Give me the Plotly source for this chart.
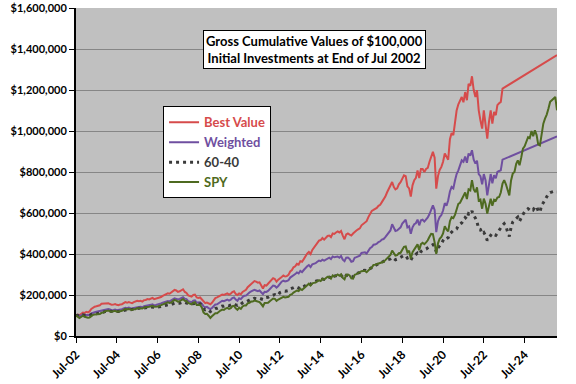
import pandas as pd
import plotly.graph_objects as go

# Monthly values in $ thousands, rows run Jul..Jun starting Jul 2002
best_value_k = [
    100, 104, 101, 108, 114, 112, 118, 115, 120, 132, 138, 143,
    145, 148, 150, 157, 158, 160, 162, 160, 156, 152, 153, 156,
    152, 150, 154, 155, 160, 165, 162, 166, 163, 160, 165, 168,
    172, 170, 172, 168, 175, 176, 180, 178, 182, 186, 180, 182,
    185, 188, 190, 196, 200, 204, 208, 206, 212, 220, 225, 222,
    215, 218, 222, 228, 215, 210, 198, 195, 192, 200, 202, 188,
    186, 188, 178, 165, 160, 163, 158, 155, 162, 175, 185, 188,
    192, 198, 202, 200, 205, 208, 202, 206, 214, 218, 205, 200,
    208, 204, 215, 222, 225, 238, 245, 255, 258, 268, 265, 260,
    262, 245, 232, 248, 246, 255, 265, 275, 282, 278, 265, 275,
    280, 288, 295, 290, 292, 298, 315, 322, 335, 340, 352, 348,
    365, 362, 375, 392, 402, 410, 400, 420, 430, 445, 455, 465,
    468, 478, 470, 480, 488, 490, 482, 500, 498, 505, 510, 505,
    512, 490, 472, 495, 500, 495, 490, 500, 510, 515, 520, 525,
    540, 548, 555, 560, 580, 595, 610, 615, 620, 625, 635, 640,
    653, 665, 680, 700, 720, 735, 751, 727, 715, 720, 740, 750,
    770, 784, 780, 730, 720, 680, 735, 760, 770, 808, 770, 815,
    815, 800, 815, 820, 850, 880, 898, 870, 719, 780, 810, 825,
    850, 890, 870, 860, 960, 990, 980, 1040, 1100, 1130, 1150, 1166,
    1140, 1190, 1150, 1230, 1220, 1267, 1200, 1166, 1199, 1101, 1052, 1012,
    1101, 1036, 963, 1044, 1101, 1036, 1093, 1077, 1126, 1135, 1142, 1207,
]
best_value_last_k = 1370

weighted_k = [
    100, 101, 97, 100, 104, 102, 103, 101, 103, 110, 114, 116,
    118, 120, 121, 125, 126, 128, 130, 131, 129, 126, 127, 129,
    126, 127, 129, 131, 135, 138, 136, 139, 136, 134, 137, 139,
    143, 142, 143, 140, 145, 146, 150, 150, 152, 155, 150, 151,
    153, 156, 159, 163, 166, 168, 171, 169, 172, 179, 184, 182,
    178, 181, 186, 189, 182, 180, 170, 166, 165, 172, 174, 163,
    163, 165, 158, 145, 140, 142, 136, 131, 137, 148, 154, 155,
    162, 167, 172, 170, 176, 178, 173, 177, 185, 188, 178, 172,
    184, 180, 190, 196, 197, 207, 212, 218, 220, 225, 222, 219,
    222, 212, 204, 216, 215, 220, 230, 238, 246, 244, 236, 244,
    255, 265, 270, 266, 268, 272, 285, 290, 298, 302, 310, 305,
    318, 312, 322, 333, 340, 346, 336, 350, 352, 355, 362, 368,
    365, 372, 368, 372, 380, 382, 375, 388, 384, 386, 388, 382,
    390, 372, 365, 382, 383, 376, 362, 365, 382, 385, 390, 392,
    405, 408, 408, 402, 418, 428, 434, 445, 446, 450, 458, 462,
    470, 473, 482, 492, 507, 515, 545, 525, 512, 515, 525, 530,
    548, 560, 567, 530, 535, 499, 530, 545, 550, 568, 540, 564,
    567, 558, 568, 578, 595, 612, 637, 615, 507, 560, 580, 590,
    612, 648, 635, 662, 705, 727, 720, 760, 790, 808, 830, 857,
    850, 875, 845, 890, 880, 906, 860, 841, 855, 790, 780, 740,
    790, 760, 686, 750, 790, 745, 784, 770, 800, 805, 808, 860,
]
weighted_last_k = 974

sixty_forty_k = [
    100, 101, 97, 100, 103, 101, 100, 99, 100, 105, 109, 110,
    109, 110, 112, 115, 116, 119, 121, 122, 121, 118, 119, 120,
    119, 120, 121, 123, 126, 129, 128, 130, 128, 128, 131, 132,
    135, 135, 135, 133, 137, 137, 140, 140, 141, 142, 140, 140,
    140, 142, 144, 147, 149, 150, 152, 151, 153, 157, 160, 159,
    158, 160, 163, 166, 163, 162, 158, 156, 156, 158, 158, 153,
    156, 157, 148, 133, 128, 131, 126, 119, 124, 130, 134, 135,
    139, 142, 146, 145, 149, 150, 148, 151, 155, 157, 152, 150,
    157, 155, 162, 166, 166, 172, 175, 179, 179, 184, 183, 181,
    184, 182, 178, 186, 186, 189, 194, 198, 202, 202, 197, 201,
    212, 216, 219, 218, 219, 222, 230, 232, 236, 240, 238, 233,
    240, 236, 241, 248, 252, 256, 252, 260, 262, 265, 270, 274,
    272, 278, 276, 281, 286, 287, 284, 294, 292, 294, 296, 292,
    296, 287, 283, 296, 296, 294, 288, 289, 301, 304, 307, 310,
    318, 320, 321, 318, 324, 328, 334, 342, 344, 348, 353, 356,
    361, 364, 368, 371, 374, 376, 383, 376, 372, 375, 380, 382,
    388, 393, 392, 380, 383, 370, 385, 392, 398, 405, 398, 412,
    417, 420, 424, 430, 437, 442, 446, 437, 410, 430, 440, 450,
    466, 478, 475, 480, 499, 508, 515, 518, 522, 540, 545, 552,
    565, 578, 570, 597, 593, 610, 588, 575, 556, 523, 520, 499,
    505, 490, 466, 478, 491, 485, 495, 491, 503, 515, 525, 540,
    548, 535, 507, 486, 530, 556, 565, 572, 580, 560, 580, 593,
    605, 612, 621, 615, 621, 615, 629, 632, 610, 604, 637, 650,
    665, 675, 694, 700, 702, 705, 702, 702,
]

spy_k = [
    100, 96, 88, 93, 99, 94, 91, 89, 90, 97, 103, 105,
    106, 108, 107, 113, 114, 120, 122, 124, 121, 119, 121, 123,
    119, 119, 121, 123, 128, 132, 129, 132, 129, 127, 131, 131,
    136, 135, 136, 134, 139, 139, 142, 143, 145, 147, 143, 143,
    144, 147, 151, 156, 159, 161, 164, 161, 163, 170, 176, 173,
    168, 170, 177, 180, 172, 171, 161, 156, 155, 163, 165, 151,
    150, 152, 139, 115, 107, 108, 99, 88, 96, 105, 111, 111,
    120, 124, 129, 127, 134, 137, 132, 136, 145, 147, 135, 128,
    138, 132, 144, 149, 149, 159, 162, 168, 168, 173, 171, 168,
    165, 156, 145, 161, 160, 162, 170, 177, 183, 181, 171, 178,
    182, 186, 191, 188, 189, 191, 201, 204, 212, 216, 222, 219,
    230, 224, 231, 241, 248, 255, 246, 257, 259, 261, 267, 272,
    268, 279, 275, 282, 289, 288, 280, 296, 291, 294, 300, 294,
    301, 283, 276, 299, 300, 295, 281, 280, 299, 302, 307, 308,
    316, 317, 317, 311, 322, 328, 334, 347, 348, 351, 356, 358,
    361, 362, 370, 378, 390, 395, 417, 402, 392, 394, 404, 406,
    421, 435, 437, 408, 416, 378, 409, 422, 430, 447, 419, 448,
    455, 448, 457, 467, 484, 498, 497, 457, 401, 452, 474, 483,
    500, 535, 520, 510, 560, 580, 575, 592, 617, 645, 650, 665,
    680, 700, 668, 715, 710, 760, 715, 702, 725, 660, 665, 621,
    670, 645, 597, 640, 670, 635, 665, 660, 675, 678, 700, 743,
    760, 740, 710, 686, 759, 792, 800, 840, 857, 833, 870, 914,
    925, 950, 970, 965, 1000, 975, 1003, 980, 935, 930, 990, 1036,
    1060, 1080, 1110, 1142, 1150, 1158, 1166, 1101,
]

tick_labels = ["Jul-02", "Jul-04", "Jul-06", "Jul-08", "Jul-10", "Jul-12",
               "Jul-14", "Jul-16", "Jul-18", "Jul-20", "Jul-22", "Jul-24"]
tick_dates = ["2002-07-01", "2004-07-01", "2006-07-01", "2008-07-01", "2010-07-01",
              "2012-07-01", "2014-07-01", "2016-07-01", "2018-07-01", "2020-07-01",
              "2022-07-01", "2024-07-01"]

series_names = ["Best Value", "Weighted", "60-40", "SPY"]
series_colors = ["#D64B4B", "#6F4FA0", "#3A3A3A", "#4E6A20"]

dates = list(pd.date_range("2002-07-01", periods=len(spy_k), freq="MS"))
last_date = dates[-1]

def thousands(vals):
    return [v * 1000 for v in vals]

fig = go.Figure()

fig.add_trace(go.Scatter(
    x=dates[:len(best_value_k)] + [last_date],
    y=thousands(best_value_k + [best_value_last_k]),
    mode="lines", line=dict(color=series_colors[0], width=2),
    name=f'<span style="color:{series_colors[0]}">{series_names[0]}</span>'))
fig.add_trace(go.Scatter(
    x=dates[:len(weighted_k)] + [last_date],
    y=thousands(weighted_k + [weighted_last_k]),
    mode="lines", line=dict(color=series_colors[1], width=2),
    name=f'<span style="color:{series_colors[1]}">{series_names[1]}</span>'))
fig.add_trace(go.Scatter(
    x=dates, y=thousands(sixty_forty_k),
    mode="lines", line=dict(color=series_colors[2], width=3, dash="3px,4px"),
    name=f'<span style="color:{series_colors[2]}">{series_names[2]}</span>'))
fig.add_trace(go.Scatter(
    x=dates, y=thousands(spy_k),
    mode="lines", line=dict(color=series_colors[3], width=2),
    name=f'<span style="color:{series_colors[3]}">{series_names[3]}</span>'))

fig.update_layout(
    width=576, height=384,
    margin=dict(l=76, r=19, t=8, b=48),
    paper_bgcolor="white", plot_bgcolor="#C0C0C0",
    font=dict(family="Lato", size=12, color="black", weight="bold"),
    showlegend=True,
    legend=dict(x=0.181, y=0.70, xanchor="left", yanchor="top",
                bgcolor="white", bordercolor="black", borderwidth=1,
                font=dict(size=13, weight="bold"), tracegroupgap=0),
    xaxis=dict(type="date", range=["2002-07-01", "2026-02-01"],
               tickvals=tick_dates, ticktext=tick_labels, tickangle=-45,
               ticks="outside", ticklen=5, tickcolor="black", tickwidth=1,
               showline=True, linecolor="black", linewidth=2,
               showgrid=False, zeroline=False, automargin=False,
               tickfont=dict(size=12, weight="bold")),
    yaxis=dict(range=[0, 1600000], dtick=200000, tickformat="$,.0f",
               ticks="outside", ticklen=5, tickcolor="black", tickwidth=1,
               showline=True, linecolor="black", linewidth=2,
               showgrid=True, gridcolor="#868686", gridwidth=1,
               zeroline=False, automargin=False,
               tickfont=dict(size=11, weight="bold")),
)

fig.add_annotation(
    xref="paper", yref="paper", x=0.495, y=0.872,
    xanchor="center", yanchor="middle",
    text="Gross Cumulative Values of $100,000<br>Initial Investments at End of Jul 2002",
    showarrow=False, align="center",
    font=dict(family="Lato", size=13, color="black", weight="bold"),
    bgcolor="white", bordercolor="black", borderwidth=1, borderpad=2,
)

# remove the browser's default page margin so the figure sits at the window origin
fig.write_html("out.html", config={"displayModeBar": False},
               post_script="document.body.style.margin='0';")
